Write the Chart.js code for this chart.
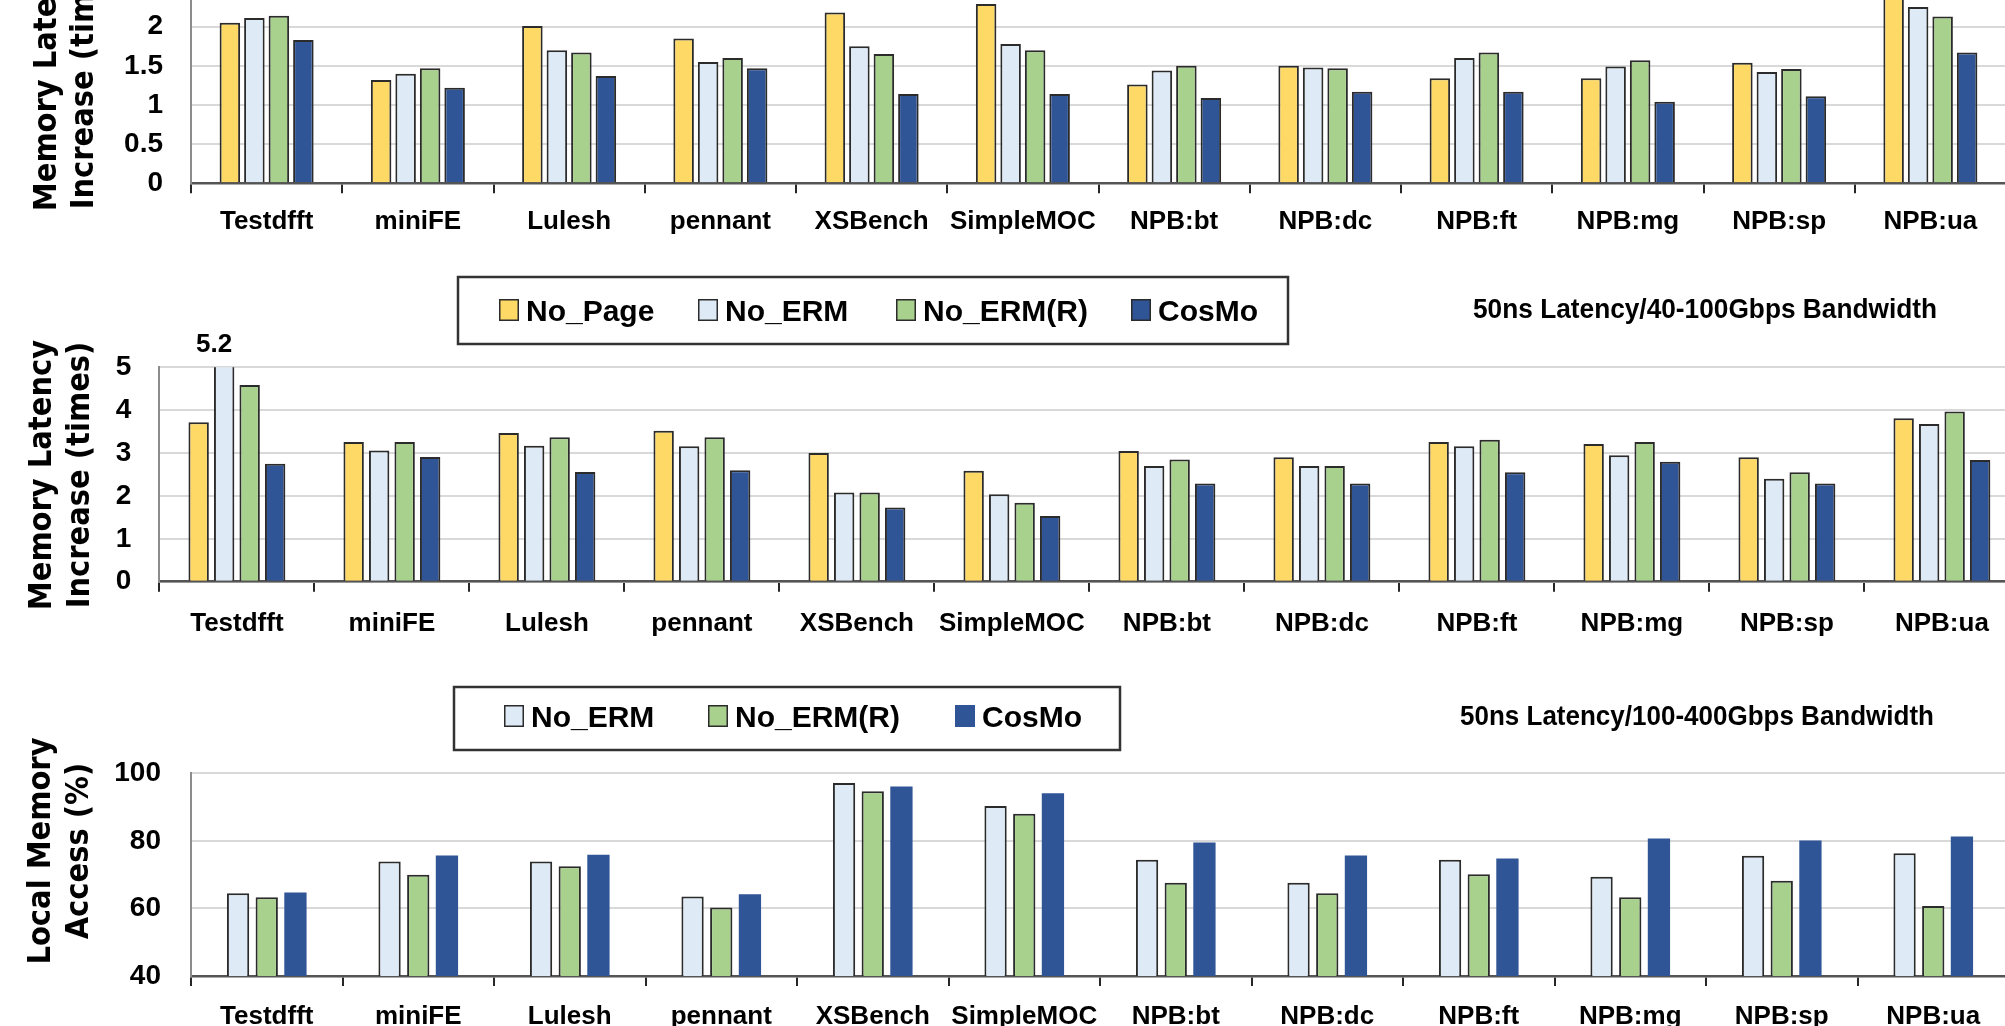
<!DOCTYPE html>
<html>
<head>
<meta charset="utf-8">
<script src="https://cdn.jsdelivr.net/npm/chart.js@4.4.1/dist/chart.umd.min.js"></script>
<style>
  html, body { margin: 0; padding: 0; background: #fff; width: 2005px; height: 1026px; overflow: hidden; position: relative; }
  canvas { position: absolute; left: 0; }
</style>
</head>
<body>
<canvas id="latTop" width="2040" height="310" style="top:-60px"></canvas>
<canvas id="latMid" width="2040" height="410" style="top:250px"></canvas>
<canvas id="localAcc" width="2040" height="400" style="top:660px"></canvas>
<script>
// Benchmarks on the x axis (same order in every panel)
const categories = ['Testdfft', 'miniFE', 'Lulesh', 'pennant', 'XSBench', 'SimpleMOC',
                    'NPB:bt', 'NPB:dc', 'NPB:ft', 'NPB:mg', 'NPB:sp', 'NPB:ua'];

// Top panel: memory latency increase (times)
const topNoPage  = [2.05, 1.32, 2.01, 1.85, 2.18, 2.29, 1.26, 1.50, 1.34, 1.34, 1.54, 2.42];
const topNoErm   = [2.11, 1.40, 1.70, 1.55, 1.75, 1.78, 1.44, 1.48, 1.60, 1.49, 1.42, 2.25];
const topNoErmR  = [2.14, 1.47, 1.67, 1.60, 1.65, 1.70, 1.50, 1.47, 1.67, 1.57, 1.46, 2.13];
const topCosmo   = [1.83, 1.22, 1.37, 1.47, 1.14, 1.14, 1.09, 1.17, 1.17, 1.04, 1.11, 1.67];

// Middle panel: 50ns latency, 40-100Gbps bandwidth
const midNoPage  = [3.72, 3.26, 3.47, 3.52, 3.00, 2.59, 3.05, 2.90, 3.26, 3.21, 2.90, 3.81];
const midNoErm   = [5.2, 3.06, 3.17, 3.16, 2.08, 2.04, 2.70, 2.70, 3.16, 2.95, 2.40, 3.68];
const midNoErmR  = [4.59, 3.26, 3.37, 3.37, 2.08, 1.84, 2.85, 2.70, 3.31, 3.26, 2.55, 3.97];
const midCosmo   = [2.75, 2.91, 2.56, 2.60, 1.73, 1.53, 2.29, 2.29, 2.55, 2.80, 2.29, 2.84];

// Bottom panel: local memory access (%), 50ns latency, 100-400Gbps bandwidth
const localNoErm  = [64.5, 73.9, 73.9, 63.5, 97.1, 90.3, 74.4, 67.6, 74.4, 69.4, 75.6, 76.3];
const localNoErmR = [63.3, 70.0, 72.5, 60.3, 94.7, 88.0, 67.6, 64.5, 70.1, 63.3, 68.2, 60.7];
const localCosmo  = [64.7, 75.7, 75.9, 64.2, 96.1, 94.1, 79.5, 75.7, 74.8, 80.7, 80.1, 81.3];

const captionMid = '50ns Latency/40-100Gbps Bandwidth';
const captionLocal = '50ns Latency/100-400Gbps Bandwidth';
const titleLatency = ['Memory Latency', 'Increase (times)'];
const titleLocal = ['Local Memory', 'Access (%)'];

const COLORS = { 'No_Page': '#FFD966', 'No_ERM': '#DEEBF7', 'No_ERM(R)': '#A9D18E', 'CosMo': '#2F5597' };
const EDGE = '#2b2b2b';

const SANS = '"Liberation Sans", Arial, sans-serif';
const WIDE = '"DejaVu Sans", Verdana, sans-serif';

// Draws the rotated axis title, the boxed legend, the caption and a value note
const panelDecor = {
  id: 'panelDecor',
  afterDraw(chart, _args, o) {
    const ctx = chart.ctx;
    ctx.save();
    if (o.axisTitle) {
      const t = o.axisTitle;
      ctx.font = t.font;
      ctx.fillStyle = '#000';
      ctx.textAlign = 'center';
      ctx.textBaseline = 'middle';
      t.lines.forEach((line, i) => {
        ctx.save();
        ctx.translate(t.x[i], t.cy);
        ctx.rotate(-Math.PI / 2);
        ctx.scale(1, t.thick || 1);
        ctx.fillText(line, 0, 0);
        ctx.restore();
      });
    }
    if (o.legendBox) {
      const L = o.legendBox;
      ctx.lineWidth = 2.5;
      ctx.strokeStyle = '#333';
      ctx.strokeRect(L.x, L.y, L.w, L.h);
      ctx.font = L.font;
      ctx.textAlign = 'left';
      ctx.textBaseline = 'alphabetic';
      chart.data.datasets.forEach((ds, i) => {
        const sx = L.itemX[i];
        const sw = L.swatch[0], sh = L.swatch[1];
        const top = L.baseline - sh;
        ctx.fillStyle = ds.backgroundColor;
        ctx.fillRect(sx, top, sw, sh);
        if (ds.borderWidth) {
          ctx.lineWidth = 1.5;
          ctx.strokeStyle = ds.borderColor;
          ctx.strokeRect(sx + 0.75, top + 0.75, sw - 1.5, sh - 1.5);
        }
        ctx.fillStyle = '#000';
        ctx.fillText(ds.label, sx + sw + 7, L.baseline);
      });
    }
    if (o.caption) {
      const c = o.caption;
      ctx.font = c.font;
      ctx.fillStyle = '#000';
      ctx.textAlign = 'left';
      ctx.textBaseline = 'alphabetic';
      ctx.fillText(c.text, c.x, c.baseline, c.maxWidth);
    }
    if (o.valueNote) {
      const n = o.valueNote;
      const bar = chart.getDatasetMeta(n.dataset).data[n.index];
      const v = chart.data.datasets[n.dataset].data[n.index];
      ctx.font = n.font;
      ctx.fillStyle = '#000';
      ctx.textAlign = 'center';
      ctx.textBaseline = 'middle';
      ctx.fillText(v.toFixed(1), bar.x + n.dx, chart.chartArea.top - n.above);
    }
    ctx.restore();
  }
};
Chart.register(panelDecor);

function barSet(name, data, edge) {
  return {
    label: name,
    data: data,
    backgroundColor: COLORS[name],
    borderColor: EDGE,
    borderWidth: edge === false ? 0 : 2,
    borderSkipped: 'start',
    clip: 0
  };
}

function buildPanel(id, p) {
  const canvas = document.getElementById(id);
  return new Chart(canvas, {
    type: 'bar',
    data: { labels: categories, datasets: p.datasets },
    options: {
      responsive: false,
      animation: false,
      devicePixelRatio: 1,
      datasets: { bar: { categoryPercentage: p.catPct, barPercentage: p.barPct } },
      layout: { padding: { left: 0, top: p.top, right: canvas.width - p.right, bottom: 0 } },
      plugins: {
        legend: { display: false },
        tooltip: { enabled: false },
        panelDecor: p.decor
      },
      scales: {
        x: {
          afterFit: (s) => { s.height = canvas.height - p.bottom; },
          grid: { offset: true, drawOnChartArea: false, drawTicks: true, tickLength: 10, color: '#262626', lineWidth: 2 },
          border: { display: true, color: '#555', width: 2.5 },
          ticks: { color: '#000', padding: p.labelPad, maxRotation: 0, autoSkip: false,
                   font: { family: SANS, size: 26, weight: 'bold' } }
        },
        y: {
          min: p.min, max: p.max,
          afterFit: (s) => { s.width = p.left; },
          grid: { color: '#d9d9d9', lineWidth: 2, drawTicks: false },
          border: { display: true, color: '#8c8c8c', width: 2 },
          ticks: { stepSize: p.step, padding: p.tickPad, color: '#000', autoSkip: false,
                   callback: (v) => String(Number(v.toFixed(2))),
                   font: { family: SANS, size: 28, weight: 'bold' } }
        }
      }
    }
  });
}

// Top panel (canvas placed at page y = -60)
buildPanel('latTop', {
  datasets: [
    barSet('No_Page', topNoPage), barSet('No_ERM', topNoErm),
    barSet('No_ERM(R)', topNoErmR), barSet('CosMo', topCosmo)
  ],
  min: 0, max: 2.5, step: 0.5,
  left: 191, right: 2006, top: 47.5, bottom: 243.3,
  catPct: 0.648, barPct: 0.837, labelPad: 13, tickPad: 28,
  decor: {
    axisTitle: { lines: titleLatency, x: [48, 85], cy: 136, thick: 1.12, font: 'bold 29px ' + WIDE }
  }
});

// Middle panel (canvas placed at page y = 250)
buildPanel('latMid', {
  datasets: [
    barSet('No_Page', midNoPage), barSet('No_ERM', midNoErm),
    barSet('No_ERM(R)', midNoErmR), barSet('CosMo', midCosmo)
  ],
  min: 0, max: 5, step: 1,
  left: 159.4, right: 2019.4, top: 117.3, bottom: 331.7,
  catPct: 0.658, barPct: 0.8, labelPad: 17, tickPad: 28,
  decor: {
    axisTitle: { lines: titleLatency, x: [43, 81], cy: 225, thick: 1.12, font: 'bold 29px ' + WIDE },
    legendBox: { x: 458, y: 27, w: 830, h: 67, itemX: [499, 698, 896, 1131], swatch: [20, 22],
                 baseline: 71, font: 'bold 30px ' + SANS },
    caption: { text: captionMid, x: 1473, baseline: 68, maxWidth: 464, font: 'bold 27px ' + SANS },
    valueNote: { dataset: 1, index: 0, dx: -10, above: 22, font: 'bold 26px ' + SANS }
  }
});

// Bottom panel (canvas placed at page y = 660)
buildPanel('localAcc', {
  datasets: [
    barSet('No_ERM', localNoErm), barSet('No_ERM(R)', localNoErmR), barSet('CosMo', localCosmo, false)
  ],
  min: 40, max: 100, step: 20,
  left: 191, right: 2009, top: 113.3, bottom: 316,
  catPct: 0.568, barPct: 0.777, labelPad: 15, tickPad: 30,
  decor: {
    axisTitle: { lines: titleLocal, x: [42, 80], cy: 191, thick: 1.12, font: 'bold 29px ' + WIDE },
    legendBox: { x: 454, y: 27, w: 666, h: 63, itemX: [504, 708, 955], swatch: [20, 22],
                 baseline: 67, font: 'bold 30px ' + SANS },
    caption: { text: captionLocal, x: 1460, baseline: 65, maxWidth: 474, font: 'bold 27px ' + SANS }
  }
});
</script>
</body>
</html>
